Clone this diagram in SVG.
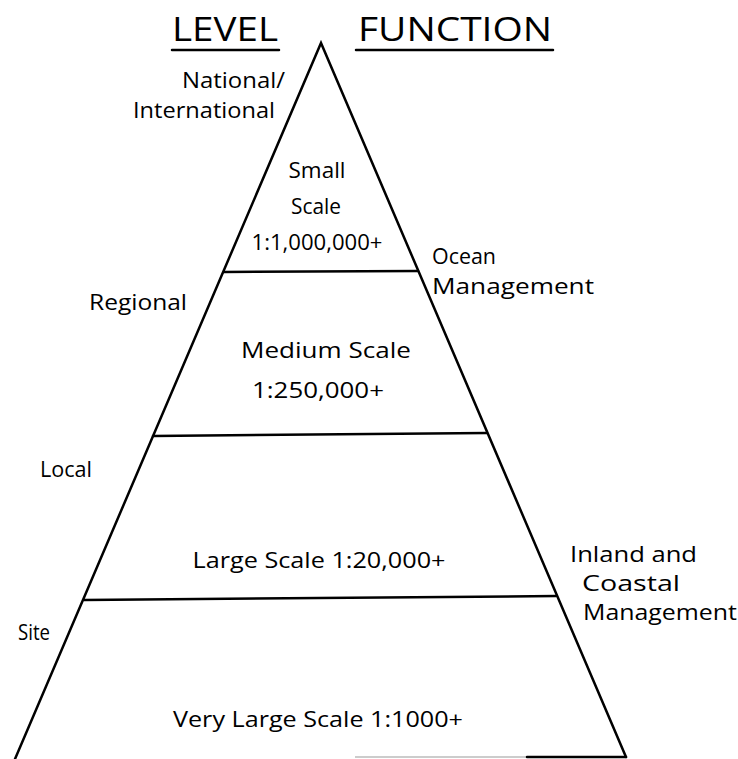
<svg xmlns="http://www.w3.org/2000/svg" width="738" height="759" viewBox="0 0 738 759">
<style>
text { font-family: "Open Sans", "Liberation Sans", sans-serif; fill: #000; }
.lbl { font-size: 22.5px; }
.head { font-size: 33px; }
.edge { stroke: #000; stroke-width: 2.5; fill: none; stroke-linecap: round; }
.faint { stroke: #bbb; stroke-width: 1.5; fill: none; }
</style>
<rect width="738" height="759" fill="#fff"/>
<g id="headers">
  <text class="head" x="172" y="41" textLength="106" lengthAdjust="spacingAndGlyphs">LEVEL</text>
  <line class="edge" x1="172" y1="50" x2="279" y2="50"/>
  <text class="head" x="358" y="41" textLength="194" lengthAdjust="spacingAndGlyphs">FUNCTION</text>
  <line class="edge" x1="356" y1="50" x2="553" y2="50"/>
</g>
<g id="pyramid">
  <polyline class="edge" points="15,759 321,43 626,757"/>
  <line class="faint" x1="355" y1="757" x2="527" y2="757"/>
  <line class="edge" x1="527" y1="757" x2="626" y2="757"/>
</g>
<g id="dividers">
  <line class="edge" x1="224" y1="272" x2="418" y2="271"/>
  <line class="edge" x1="153" y1="436" x2="487" y2="433"/>
  <line class="edge" x1="84" y1="600" x2="556" y2="596"/>
</g>
<g id="tier1">
  <text class="lbl" x="317" y="178" text-anchor="middle" textLength="57" lengthAdjust="spacingAndGlyphs">Small</text>
  <text class="lbl" x="316" y="214" text-anchor="middle" textLength="50" lengthAdjust="spacingAndGlyphs">Scale</text>
  <text class="lbl" x="317" y="250" text-anchor="middle" textLength="131" lengthAdjust="spacingAndGlyphs">1:1,000,000+</text>
</g>
<g id="tier2">
  <text class="lbl" x="326" y="358" text-anchor="middle" textLength="170" lengthAdjust="spacingAndGlyphs">Medium Scale</text>
  <text class="lbl" x="318" y="398" text-anchor="middle" textLength="132" lengthAdjust="spacingAndGlyphs">1:250,000+</text>
</g>
<g id="tier3">
  <text class="lbl" x="319" y="568" text-anchor="middle" textLength="253" lengthAdjust="spacingAndGlyphs">Large Scale 1:20,000+</text>
</g>
<g id="tier4">
  <text class="lbl" x="318" y="727" text-anchor="middle" textLength="290" lengthAdjust="spacingAndGlyphs">Very Large Scale 1:1000+</text>
</g>
<g id="levels">
  <text class="lbl" x="182" y="88" textLength="103" lengthAdjust="spacingAndGlyphs">National/</text>
  <text class="lbl" x="133" y="118" textLength="142" lengthAdjust="spacingAndGlyphs">International</text>
  <text class="lbl" x="89" y="310" textLength="98" lengthAdjust="spacingAndGlyphs">Regional</text>
  <text class="lbl" x="40" y="477" textLength="52" lengthAdjust="spacingAndGlyphs">Local</text>
  <text class="lbl" x="18" y="640" textLength="32" lengthAdjust="spacingAndGlyphs">Site</text>
</g>
<g id="functions">
  <text class="lbl" x="432" y="264" textLength="64" lengthAdjust="spacingAndGlyphs">Ocean</text>
  <text class="lbl" x="432" y="294" textLength="162" lengthAdjust="spacingAndGlyphs">Management</text>
  <text class="lbl" x="570" y="562" textLength="127" lengthAdjust="spacingAndGlyphs">Inland and</text>
  <text class="lbl" x="582" y="591" textLength="98" lengthAdjust="spacingAndGlyphs">Coastal</text>
  <text class="lbl" x="583" y="620" textLength="154" lengthAdjust="spacingAndGlyphs">Management</text>
</g>
</svg>
